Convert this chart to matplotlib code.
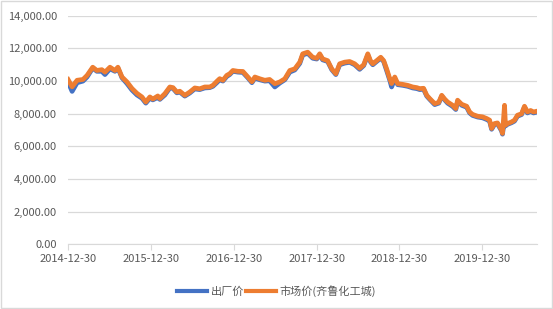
import matplotlib
matplotlib.use('Agg')
import matplotlib.pyplot as plt
import matplotlib.dates as mdates
from matplotlib.ticker import FuncFormatter
from matplotlib.patches import Rectangle
import pandas as pd

# price series
dates = ['2014-12-30', '2015-01-17', '2015-02-08', '2015-03-06', '2015-03-24', '2015-04-18',
	'2015-05-06', '2015-05-28', '2015-06-11', '2015-07-03', '2015-07-25', '2015-08-07',
	'2015-08-25', '2015-09-16', '2015-10-08', '2015-10-30', '2015-11-21', '2015-12-08',
	'2015-12-26', '2016-01-08', '2016-01-30', '2016-02-08', '2016-03-01', '2016-03-23',
	'2016-04-06', '2016-04-23', '2016-05-06', '2016-05-28', '2016-06-19', '2016-07-11',
	'2016-08-02', '2016-08-24', '2016-09-15', '2016-09-29', '2016-10-16', '2016-10-29',
	'2016-11-12', '2016-11-29', '2016-12-12', '2016-12-26', '2017-01-17', '2017-02-08',
	'2017-03-02', '2017-03-20', '2017-04-02', '2017-04-24', '2017-05-16', '2017-06-06',
	'2017-06-29', '2017-07-21', '2017-08-12', '2017-09-03', '2017-09-25', '2017-10-17',
	'2017-10-30', '2017-11-21', '2017-12-13', '2017-12-31', '2018-01-13', '2018-01-26',
	'2018-02-17', '2018-03-07', '2018-03-25', '2018-04-11', '2018-05-03', '2018-05-25',
	'2018-06-16', '2018-07-08', '2018-07-26', '2018-08-13', '2018-08-26', '2018-09-04',
	'2018-09-21', '2018-10-09', '2018-10-22', '2018-11-04', '2018-11-18', '2018-11-26',
	'2018-12-10', '2018-12-23', '2019-01-14', '2019-02-05', '2019-02-27', '2019-03-17',
	'2019-03-30', '2019-04-16', '2019-04-30', '2019-05-13', '2019-06-04', '2019-06-22',
	'2019-07-05', '2019-07-18', '2019-07-31', '2019-08-22', '2019-09-05', '2019-09-13',
	'2019-10-01', '2019-10-23', '2019-11-05', '2019-11-18', '2019-12-10', '2020-01-01',
	'2020-01-19', '2020-02-01', '2020-02-10', '2020-02-23', '2020-03-07', '2020-03-25',
	'2020-03-29', '2020-04-07', '2020-04-11', '2020-04-20', '2020-05-08', '2020-05-21',
	'2020-06-03', '2020-06-21', '2020-07-04', '2020-07-17', '2020-07-31', '2020-08-13',
	'2020-08-26']

market = [10100, 9650, 10050, 10100, 10350, 10850,
	10650, 10700, 10550, 10850, 10650, 10850,
	10250, 9950, 9550, 9250, 9030, 8720,
	9030, 8900, 9090, 8930, 9230, 9640,
	9600, 9330, 9380, 9130, 9330, 9580,
	9530, 9640, 9640, 9740, 9980, 10150,
	10050, 10350, 10450, 10650, 10600, 10590,
	10250, 9960, 10250, 10140, 10050, 10100,
	9840, 9950, 10140, 10650, 10750, 11160,
	11670, 11770, 11460, 11400, 11670, 11360,
	11250, 10750, 10450, 11060, 11160, 11200,
	11060, 10790, 11000, 11670, 11200, 11060,
	11250, 11460, 11250, 10750, 10140, 9850,
	10250, 9840, 9800, 9740, 9640, 9600,
	9540, 9560, 9130, 8930, 8620, 8700,
	9130, 8900, 8720, 8520, 8320, 8830,
	8580, 8460, 8110, 7960, 7850, 7810,
	7710, 7610, 7100, 7400, 7440, 7000,
	6800, 8520, 7300, 7400, 7500, 7610,
	7910, 8000, 8460, 8110, 8200, 8110,
	8150]

factory = [9950, 9370, 9900, 10000, 10250, 10800,
	10600, 10600, 10400, 10750, 10600, 10800,
	10200, 9850, 9450, 9150, 8950, 8650,
	8950, 8850, 9000, 8880, 9150, 9580,
	9550, 9280, 9330, 9080, 9270, 9520,
	9480, 9580, 9600, 9680, 9900, 10080,
	10000, 10280, 10400, 10600, 10550, 10530,
	10200, 9900, 10180, 10080, 10000, 10020,
	9640, 9880, 10080, 10550, 10680, 11080,
	11600, 11700, 11400, 11350, 11600, 11300,
	11200, 10700, 10400, 11000, 11100, 11150,
	11000, 10720, 10950, 11600, 11150, 11000,
	11200, 11400, 11200, 10650, 10050, 9640,
	10150, 9780, 9740, 9680, 9580, 9540,
	9480, 9500, 9080, 8880, 8560, 8650,
	9080, 8850, 8650, 8450, 8260, 8750,
	8520, 8400, 8050, 7900, 7800, 7750,
	7650, 7550, 7050, 7350, 7380, 6950,
	6750, 7700, 7250, 7350, 7450, 7550,
	7850, 7950, 8400, 8050, 8150, 8050,
	8100]

tick_dates = ['2014-12-30', '2015-12-30', '2016-12-30', '2017-12-30', '2018-12-30', '2019-12-30']
series_names = ['出厂价', '市场价(齐鲁化工城)']

plt.rcParams['font.family'] = ['Noto Sans CJK SC', 'DejaVu Sans']

x = pd.to_datetime(dates)
fig = plt.figure(figsize=(5.53, 3.09), dpi=100)
ax = fig.add_axes([0.123, 0.209, 0.848, 0.74])

ax.plot(x, factory, color='#4472C4', lw=3.4, solid_joinstyle='round', label=series_names[0])
ax.plot(x, market, color='#ED7D31', lw=3.4, solid_joinstyle='round', label=series_names[1])

ax.set_ylim(0, 14000)
ax.set_yticks(range(0, 14001, 2000))
ax.yaxis.set_major_formatter(FuncFormatter(lambda v, p: '{:,.2f}'.format(v)))
ax.set_xlim(pd.Timestamp('2014-12-30'), pd.Timestamp('2020-08-28'))
ax.set_xticks(pd.to_datetime(tick_dates))
ax.xaxis.set_major_formatter(mdates.DateFormatter('%Y-%m-%d'))

ax.grid(axis='y', color='#D9D9D9', lw=0.9)
ax.set_axisbelow(True)
for s in ['top', 'right', 'left']:
	ax.spines[s].set_visible(False)
ax.spines['bottom'].set_color('#D9D9D9')
ax.tick_params(axis='y', length=0, pad=8, labelsize=8, labelcolor='#595959')
ax.tick_params(axis='x', length=4, color='#D9D9D9', pad=3, labelsize=8, labelcolor='#595959')

leg = fig.legend(loc='lower center', bbox_to_anchor=(0.5, 0.005), ncol=2, frameon=False,
	fontsize=8, handlelength=2.7, handletextpad=0.35, columnspacing=0.15, labelcolor='#595959')
for l in leg.get_lines():
	l.set_linewidth(3)

fig.patches.append(Rectangle((0.001, 0.002), 0.997, 0.995, transform=fig.transFigure,
	fill=False, edgecolor='#D9D9D9', lw=1))

fig.savefig('out.png', dpi=100)
